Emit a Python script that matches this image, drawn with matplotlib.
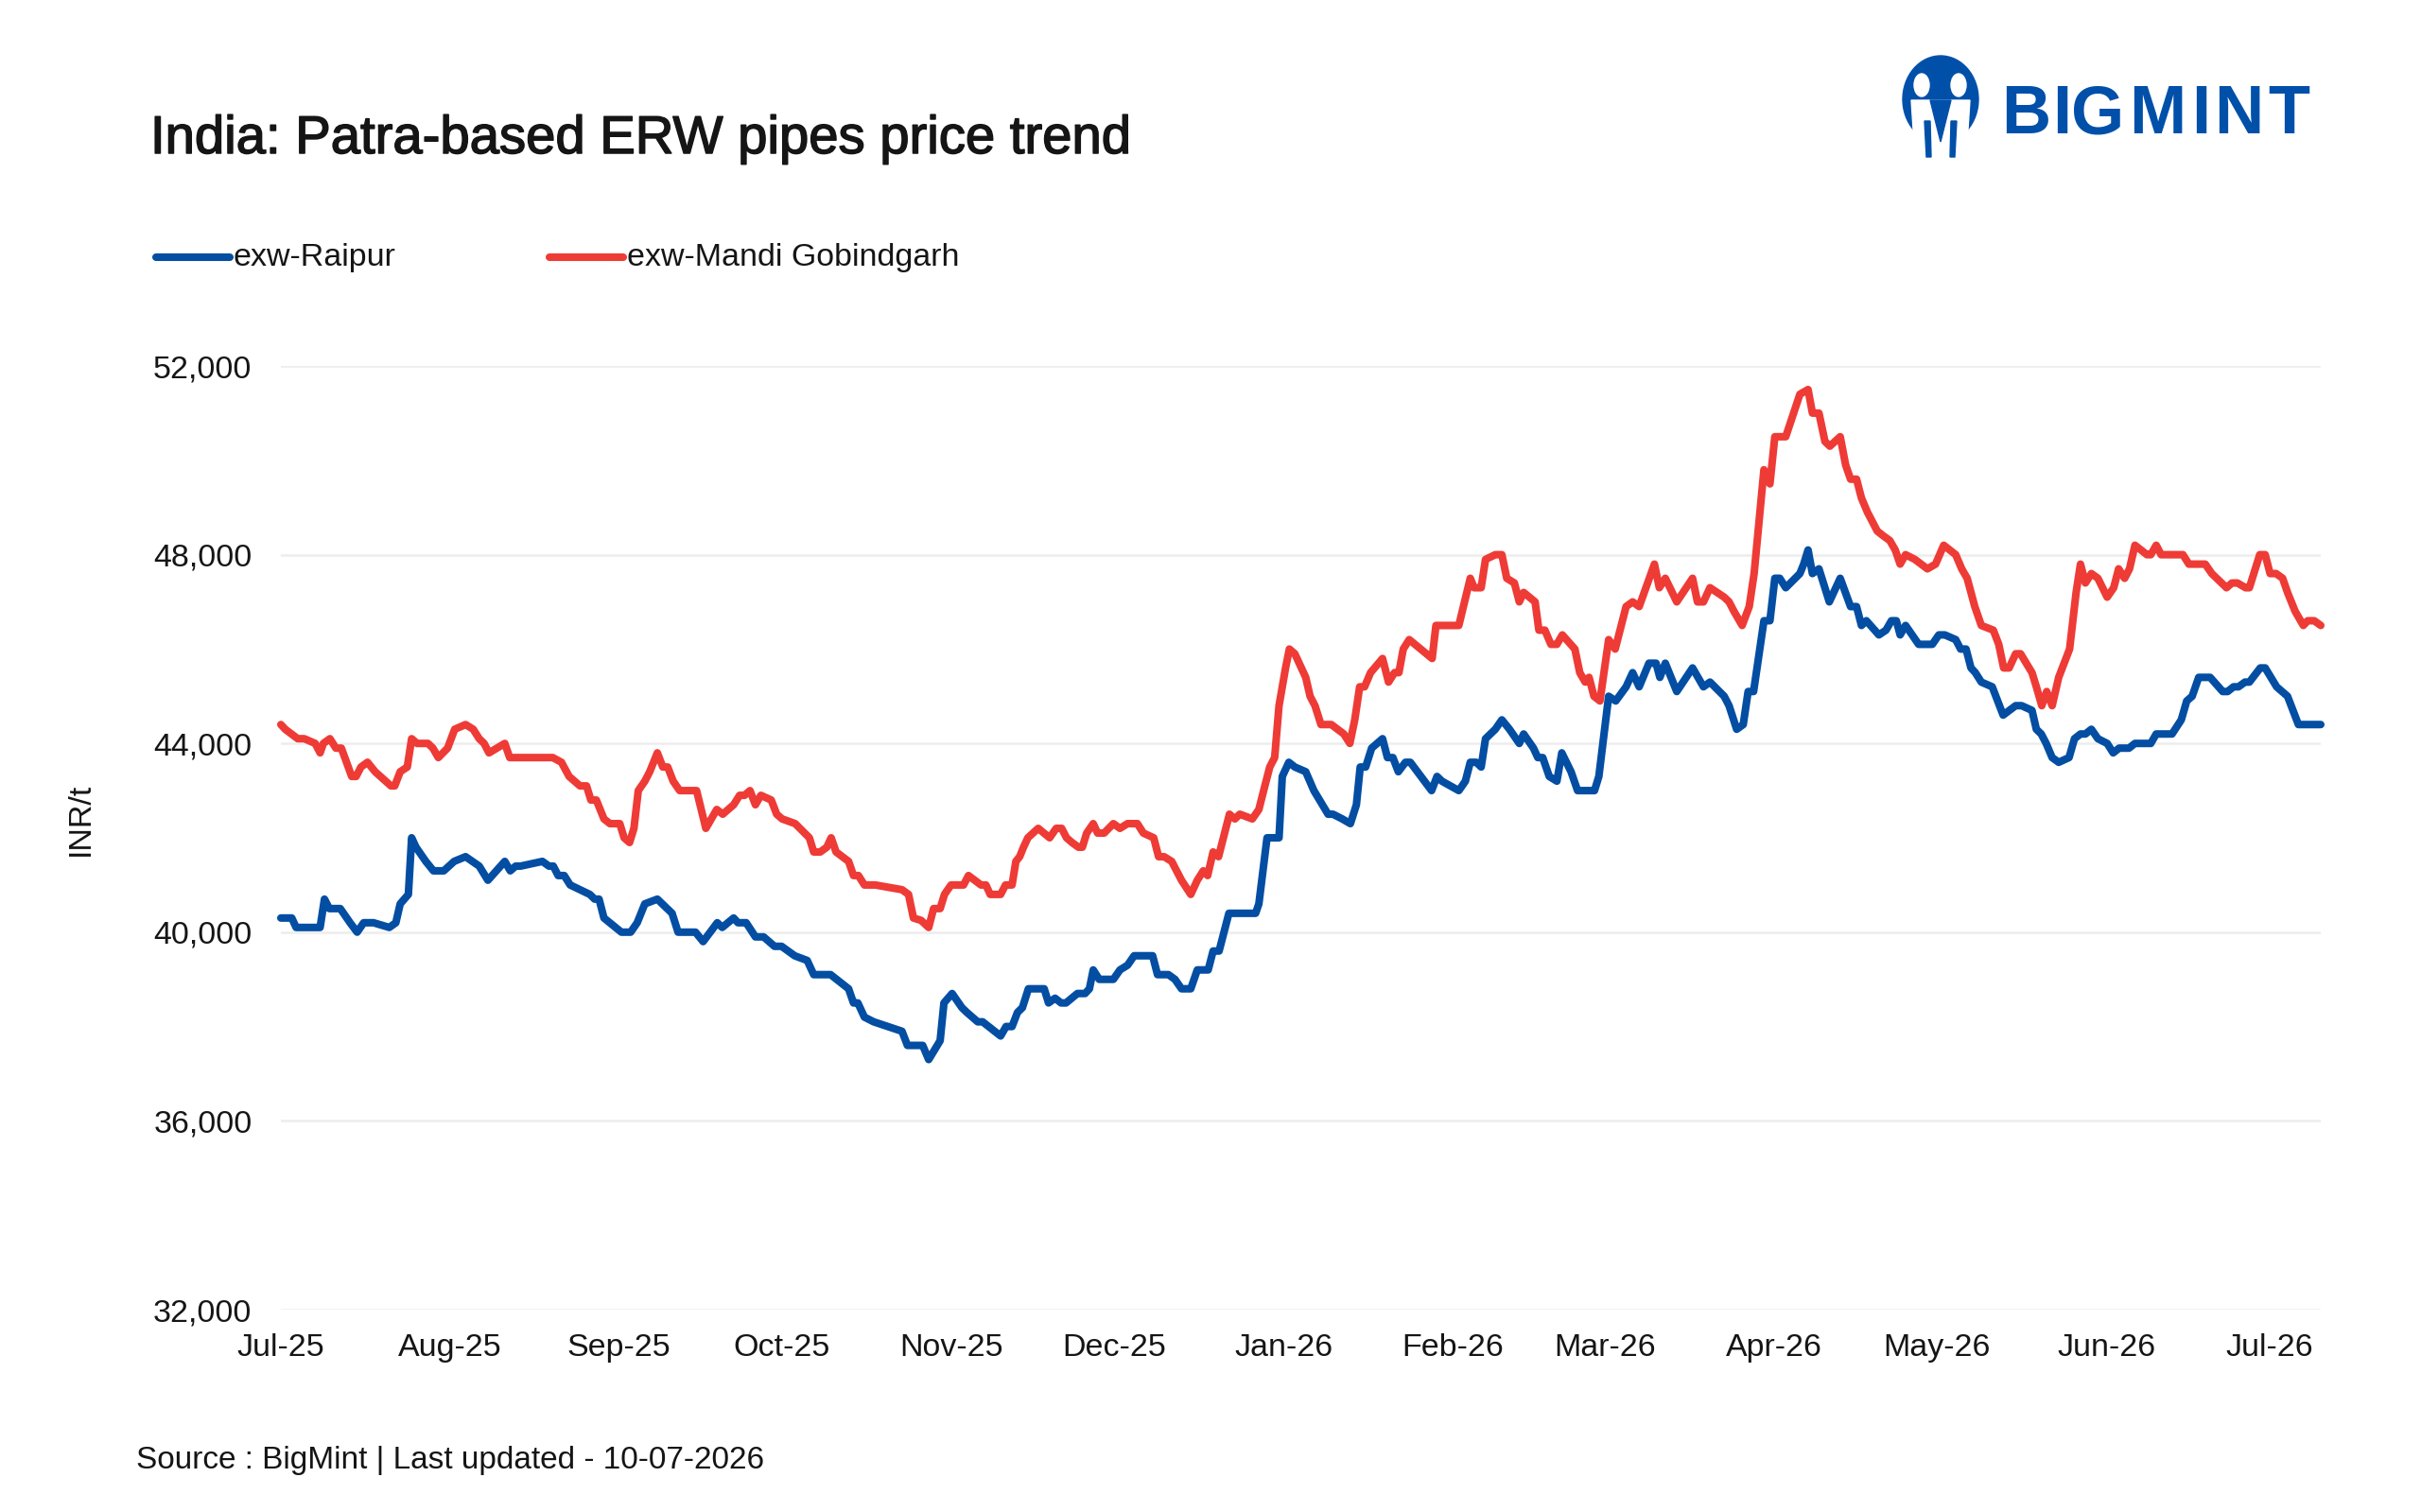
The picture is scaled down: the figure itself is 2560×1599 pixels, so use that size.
import numpy as np
import pandas as pd
import matplotlib
matplotlib.use('Agg')
import matplotlib.pyplot as plt
import matplotlib.dates as mdates
import matplotlib.patheffects as pe
from matplotlib.patches import Ellipse, Polygon
from matplotlib.lines import Line2D
from matplotlib.ticker import FuncFormatter, FixedLocator
#-------------------------------------------------------------------------------
# prices, day offsets counted from 1 Jul 2025
start = pd.Timestamp('2025-07-01')

raipur_day = [0, 2, 2.8, 7.2, 8, 8.9, 10.9, 12.7, 14, 15.2, 17, 19.9, 21.1, 21.9, 23.4, 24, 24.8, 26.6, 28, 29.9,
              31.8, 33.9, 36.4, 38, 41.1, 42.1, 43.1, 44, 48, 49.2, 50, 50.9, 52, 53.1, 54.9, 56.7, 57.6, 58.4, 59.3, 62.5,
              64.2, 65.4, 66.8, 69.1, 71.8, 72.9, 76.1, 77.5, 80.1, 81, 83.1, 83.9, 85.4, 87.1, 88.6, 90.6, 91.9, 94.3, 96.6, 97.8,
              100.9, 104.2, 105.1, 105.9, 107.1, 108.8, 114, 115, 117.8, 118.9, 121, 121.7, 123.2, 125, 125.9, 127.9, 128.8, 132.1, 133.1, 134.2,
              135.2, 136.1, 137.2, 140.1, 140.9, 142.1, 143.2, 144.1, 146.2, 147.6, 148.4, 149.1, 150.2, 152.8, 154, 155.4, 156.6, 160, 160.9, 162.9,
              164.1, 165.3, 167, 168.2, 170.2, 171.1, 172.2, 174, 178.9, 179.5, 181, 183.2, 183.8, 185, 186.1, 188.1, 189.6, 192.2, 193.1, 194.8,
              196.3, 197.4, 198.1, 199.1, 200.2, 202.2, 203.1, 204.1, 205.1, 206.4, 207.3, 209.9, 211.2, 212.2, 213.1, 216.2, 217.4, 218.3, 219.4, 220.3,
              221.1, 222.9, 224.1, 225.5, 226.7, 227.3, 228.1, 229.9, 230.7, 231.6, 232.8, 234.2, 235.1, 236.8, 238, 241.1, 241.9, 243.7, 245, 246.9,
              248.1, 249.3, 251.1, 252.4, 253.1, 254.1, 256.2, 259.1, 261.1, 262.3, 264.9, 265.8, 267.2, 268.4, 269.3, 270.3, 272.2, 273.3, 274.2, 275.1,
              276.2, 278.8, 279.5, 280.3, 281.1, 282.3, 284.2, 286.2, 288.1, 289.2, 290.1, 291, 293.3, 294.6, 295.6, 296.5, 297.2, 298.2, 300.6, 303.1,
              304.3, 305.4, 307.4, 308.3, 309.3, 310.2, 311, 312.1, 314.1, 316.1, 318.4, 319.5, 321.4, 322.2, 323.1, 324, 325.1, 326.3, 328.2, 329.2,
              330.3, 331.2, 332.3, 333.5, 335.2, 336.3, 337.4, 339.2, 340.3, 343.2, 344.2, 347.1, 348.8, 349.8, 350.8, 352, 354.1, 356.4, 357.3, 358.4,
              359.3, 360.5, 361.3, 363.3, 364.2, 366.3, 368.3, 370.3, 374.4]
raipur_price = [40300, 40300, 40100, 40100, 40700, 40500, 40500, 40200, 40000, 40200, 40200, 40100, 40200, 40600, 40800, 42000, 41800, 41500, 41300, 41300,
                41500, 41600, 41400, 41100, 41500, 41300, 41400, 41400, 41500, 41400, 41400, 41200, 41200, 41000, 40900, 40800, 40700, 40700, 40300, 40000,
                40000, 40200, 40600, 40700, 40400, 40000, 40000, 39800, 40200, 40100, 40300, 40200, 40200, 39900, 39900, 39700, 39700, 39500, 39400, 39100,
                39100, 38800, 38500, 38500, 38200, 38100, 37900, 37600, 37600, 37300, 37700, 38500, 38700, 38400, 38300, 38100, 38100, 37800, 38000, 38000,
                38300, 38400, 38800, 38800, 38500, 38600, 38500, 38500, 38700, 38700, 38800, 39200, 39000, 39000, 39200, 39300, 39500, 39500, 39100, 39100,
                39000, 38800, 38800, 39200, 39200, 39600, 39600, 40400, 40400, 40600, 42000, 42000, 43300, 43600, 43500, 43400, 43000, 42500, 42500, 42400,
                42300, 42700, 43500, 43500, 43900, 44100, 43700, 43700, 43400, 43600, 43600, 43200, 43000, 43300, 43200, 43000, 43200, 43600, 43600, 43500,
                44100, 44300, 44500, 44300, 44100, 44000, 44200, 43900, 43700, 43700, 43300, 43200, 43800, 43400, 43000, 43000, 43300, 45000, 44900, 45200,
                45500, 45200, 45700, 45700, 45400, 45700, 45100, 45600, 45200, 45300, 45000, 44800, 44300, 44400, 45100, 45100, 46600, 46600, 47500, 47500,
                47300, 47600, 47800, 48100, 47600, 47700, 47000, 47500, 46900, 46900, 46500, 46600, 46300, 46400, 46600, 46600, 46300, 46500, 46100, 46100,
                46300, 46300, 46200, 46000, 46000, 45600, 45500, 45300, 45200, 44600, 44800, 44800, 44700, 44300, 44200, 44000, 43700, 43600, 43700, 44100,
                44200, 44200, 44300, 44100, 44000, 43800, 43900, 43900, 44000, 44000, 44200, 44200, 44500, 44900, 45000, 45400, 45400, 45100, 45100, 45200,
                45200, 45300, 45300, 45600, 45600, 45200, 45000, 44400, 44400]

gobind_day = [0, 0.8, 3.1, 4.3, 6.3, 7.2, 7.8, 9, 10.1, 11.1, 13, 13.8, 14.7, 15.9, 17.3, 20.2, 20.9, 21.9, 23.2, 24,
              25, 27, 27.9, 28.9, 30.6, 31.9, 33.9, 35.3, 36.4, 37.3, 38.2, 41.1, 42, 49.9, 51.5, 52.9, 54.9, 56.1, 56.9, 57.9,
              59.3, 60.4, 62.2, 63, 64, 64.8, 65.6, 66.8, 67.7, 69.1, 70.1, 71, 72, 73.2, 76.3, 78, 80, 81.1, 83.1, 84.2,
              85.1, 86.1, 87.1, 88.1, 90, 91, 92, 94.4, 97, 97.8, 99, 100.2, 101, 101.9, 104.2, 105.1, 106, 107.1, 109.1, 114,
              115.2, 116.1, 117.5, 118.9, 119.8, 121, 121.8, 123, 125.3, 126.2, 128.5, 129.4, 130.2, 132.1, 133, 134.2, 134.9, 135.6, 136.3, 137.1,
              139, 141.1, 142.3, 143.3, 144.2, 145.2, 146.4, 147.1, 147.9, 149.1, 149.9, 151.1, 152.8, 154, 155.4, 157.2, 158.3, 160.2, 161.1, 162.1,
              163.5, 165.3, 167, 168.2, 169.3, 170.1, 171.1, 172.1, 174.1, 175.1, 176, 178.3, 179.5, 180.6, 181.5, 182.4, 183.2, 184.4, 185.1, 186.1,
              188.1, 188.9, 189.8, 190.9, 192.8, 195.1, 196.2, 197.1, 198, 198.9, 200, 202.2, 203.3, 204.4, 205.2, 206, 207.1, 211.3, 212, 216.2,
              218.3, 219, 220.3, 221.1, 222.9, 224.1, 225, 226.4, 227.3, 228.1, 230.2, 230.9, 232, 233.1, 234.2, 235.2, 237.5, 238.4, 239.4, 240.1,
              241, 242.1, 243.7, 244.9, 246.9, 248.1, 249.3, 252.1, 253, 254.1, 256.2, 259.1, 260, 261.1, 262.3, 264.9, 265.8, 266.7, 268.2, 269.5,
              270.4, 272.2, 273.3, 274.2, 276.2, 278.8, 280.3, 281.1, 282.3, 283.4, 284.3, 286.2, 287.2, 288.1, 289.2, 290.1, 291.2, 293, 294.1, 295.3,
              296.3, 297.2, 298.2, 299.9, 302.2, 303.7, 305.2, 307.4, 308.5, 309.5, 310.9, 312.1, 314.3, 315.3, 316.2, 317.2, 318.4, 319.3, 321.4, 322.2,
              323.2, 324.1, 325.1, 326.3, 328.3, 329.5, 330.3, 331.2, 332.3, 333.5, 335.2, 336.4, 337.3, 338.4, 339.3, 340.3, 342.5, 343.2, 344.2, 345.1,
              349.1, 350.2, 353.2, 354.4, 357.1, 358.1, 359.1, 360.6, 361.3, 363.2, 364.2, 365.1, 366.2, 367.4, 368.3, 369.7, 371.2, 372, 373.2, 374.4]
gobind_price = [44400, 44300, 44100, 44100, 44000, 43800, 44000, 44100, 43900, 43900, 43300, 43300, 43500, 43600, 43400, 43100, 43100, 43400, 43500, 44100,
                44000, 44000, 43900, 43700, 43900, 44300, 44400, 44300, 44100, 44000, 43800, 44000, 43700, 43700, 43600, 43300, 43100, 43100, 42800, 42800,
                42400, 42300, 42300, 42000, 41900, 42200, 43000, 43200, 43400, 43800, 43500, 43500, 43200, 43000, 43000, 42200, 42600, 42500, 42700, 42900,
                42900, 43000, 42700, 42900, 42800, 42500, 42400, 42300, 42000, 41700, 41700, 41800, 42000, 41700, 41500, 41200, 41200, 41000, 41000, 40900,
                40800, 40300, 40250, 40100, 40500, 40500, 40800, 41000, 41000, 41200, 41000, 41000, 40800, 40800, 41000, 41000, 41500, 41600, 41800, 42000,
                42200, 42000, 42200, 42200, 42000, 41900, 41800, 41800, 42100, 42300, 42100, 42100, 42300, 42200, 42300, 42300, 42100, 42000, 41600, 41600,
                41500, 41100, 40800, 41100, 41300, 41200, 41700, 41600, 42500, 42400, 42500, 42400, 42600, 43100, 43500, 43700, 44800, 45600, 46000, 45900,
                45400, 45000, 44800, 44400, 44400, 44200, 44000, 44500, 45200, 45200, 45500, 45800, 45300, 45500, 45500, 46000, 46200, 45800, 46500, 46500,
                47500, 47300, 47300, 47900, 48000, 48000, 47500, 47400, 47000, 47200, 47000, 46400, 46400, 46100, 46100, 46300, 46000, 45500, 45300, 45400,
                45000, 44900, 46200, 46000, 46900, 47000, 46900, 47800, 47300, 47500, 47000, 47500, 47000, 47000, 47300, 47100, 47000, 46800, 46500, 46900,
                47600, 49800, 49500, 50500, 50500, 51400, 51500, 51000, 51000, 50400, 50300, 50500, 49900, 49600, 49600, 49200, 48900, 48500, 48400, 48300,
                48100, 47800, 48000, 47900, 47700, 47800, 48200, 48000, 47700, 47500, 46900, 46500, 46400, 46100, 45600, 45600, 45900, 45900, 45500, 45200,
                44800, 45100, 44800, 45400, 46000, 47200, 47800, 47400, 47600, 47500, 47100, 47300, 47700, 47500, 47700, 48200, 48000, 48000, 48200, 48000,
                48000, 47800, 47800, 47600, 47300, 47400, 47400, 47300, 47300, 48000, 48000, 47600, 47600, 47500, 47200, 46800, 46500, 46600, 46600, 46500]

y_ticks = [32000, 36000, 40000, 44000, 48000, 52000]
month_ticks = ['2025-07-01', '2025-08-01', '2025-09-01', '2025-10-01', '2025-11-01', '2025-12-01', '2026-01-01',
               '2026-02-01', '2026-03-01', '2026-04-01', '2026-05-01', '2026-06-01', '2026-07-01']
series_names = ['exw-Raipur', 'exw-Mandi Gobindgarh']
#-------------------------------------------------------------------------------
blue = '#034EA2'
red = '#EE3B36'
logo_blue = '#0050AA'
ink = '#151515'
W, H = 2560, 1599
lw = 5.8

plt.rcParams['font.family'] = ['Liberation Sans', 'DejaVu Sans']
plt.rcParams['text.color'] = ink

df_r = pd.DataFrame({'date': start + pd.to_timedelta(raipur_day, unit='D'), 'price': raipur_price})
df_g = pd.DataFrame({'date': start + pd.to_timedelta(gobind_day, unit='D'), 'price': gobind_price})

fig = plt.figure(figsize=(W / 100, H / 100), dpi=100)
fig.patch.set_facecolor('white')
ax = fig.add_axes([297 / W, 1 - 1385 / H, (2454 - 297) / W, (1385 - 387) / H])

ax.plot(df_r['date'], df_r['price'], color=blue, lw=lw, solid_joinstyle='round', solid_capstyle='round', clip_on=False)
ax.plot(df_g['date'], df_g['price'], color=red, lw=lw, solid_joinstyle='round', solid_capstyle='round', clip_on=False)

ax.set_xlim(df_r['date'].iloc[0], df_r['date'].iloc[-1])
ax.set_ylim(32000, 52000)
ax.yaxis.set_major_locator(FixedLocator(y_ticks))
ax.yaxis.set_major_formatter(FuncFormatter(lambda v, p: '{:,.0f}'.format(v)))
ax.set_xticks(mdates.date2num(pd.to_datetime(month_ticks)))
ax.xaxis.set_major_formatter(mdates.DateFormatter('%b-%y'))
ax.grid(axis='y', color='#EDEDED', lw=1.8)
ax.set_axisbelow(True)
for s in ax.spines.values():
    s.set_visible(False)
ax.tick_params(axis='both', length=0, labelsize=24.5, colors=ink)
ax.tick_params(axis='y', pad=22)
ax.tick_params(axis='x', pad=18)

# title, axis label, source
fig.text(159 / W, 1 - 162 / H, 'India: Patra-based ERW pipes price trend', fontsize=40.5, va='baseline', ha='left',
         path_effects=[pe.withStroke(linewidth=1.1, foreground=ink)])
fig.text(85 / W, 1 - 866 / H, 'INR/t', rotation=90, fontsize=24.5, ha='center', va='center')
fig.text(144 / W, 1 - 1545 / H, 'Source : BigMint | Last updated - 10-07-2026', fontsize=24, ha='left', va='center')

# legend drawn by hand
for x0, x1, col, name in [(165, 243, blue, series_names[0]), (581, 659, red, series_names[1])]:
    fig.add_artist(Line2D([x0 / W, x1 / W], [1 - 272 / H] * 2, color=col, lw=lw, solid_capstyle='round'))
    fig.text((x1 + 4) / W, 1 - 272 / H, name, fontsize=24.5, ha='left', va='center')

# logo
lax = fig.add_axes([2000 / W, 1 - 175 / H, 100 / W, 125 / H])
lax.set_xlim(2000, 2100)
lax.set_ylim(175, 50)
lax.axis('off')
lax.add_patch(Ellipse((2052, 105), 80, 92, color=logo_blue))
lax.add_patch(Ellipse((2032, 90), 16, 24, color='white'))
lax.add_patch(Ellipse((2071, 90), 16, 24, color='white'))
lax.add_patch(Polygon([(2021, 106), (2083, 106), (2080, 152), (2024, 152)], color='white'))
lax.add_patch(Polygon([(2041, 106), (2063, 106), (2052, 150)], color=logo_blue))
lax.add_patch(Polygon([(2035, 128), (2041, 128), (2042, 166), (2037, 166)], color=logo_blue))
lax.add_patch(Polygon([(2063, 128), (2069, 128), (2067, 166), (2062, 166)], color=logo_blue))
for ch, xc in zip('BIGMINT', [2142, 2180, 2218, 2281, 2327, 2367, 2420]):
    fig.text(xc / W, 1 - 122 / H, ch, fontsize=52, fontweight='bold', color=logo_blue,
             ha='center', va='center', family=['Liberation Sans Narrow', 'Liberation Sans'])

fig.savefig('out.png', dpi=100, facecolor='white')
